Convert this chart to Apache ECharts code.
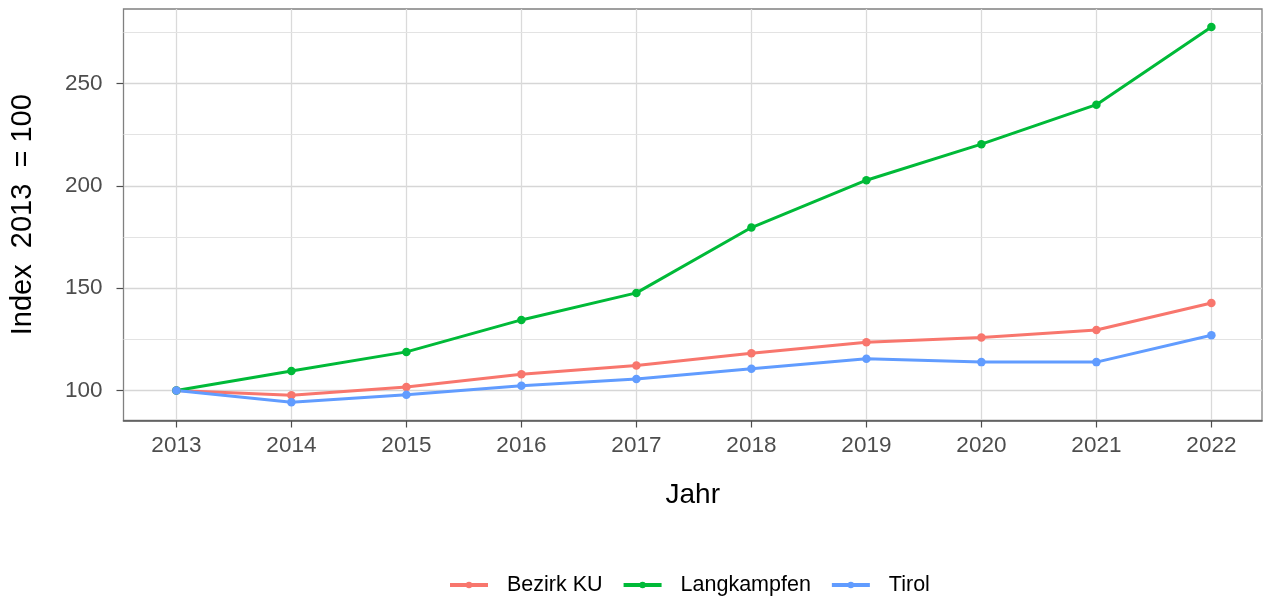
<!DOCTYPE html>
<html>
<head>
<meta charset="utf-8">
<script src="https://cdn.jsdelivr.net/npm/echarts@6/dist/echarts.min.js"></script>
<style>
  html, body { margin: 0; padding: 0; background: #fff; }
  #chart { width: 1263px; height: 598px; }
</style>
</head>
<body>
<div id="chart"></div>
<script>
const years = [2013, 2014, 2015, 2016, 2017, 2018, 2019, 2020, 2021, 2022]
const bezirkKU = [100, 97.7, 101.8, 108.0, 112.2, 118.2, 123.6, 125.9, 129.6, 142.8]
const langkampfen = [100, 109.6, 118.9, 134.5, 147.7, 179.6, 202.7, 220.3, 239.6, 277.5]
const tirol = [100, 94.3, 98.0, 102.4, 105.7, 110.7, 115.6, 113.9, 113.9, 127.0]
const yTicks = [100, 150, 200, 250]
const yMinorTicks = [125, 175, 225, 275]

const colors = { 'Bezirk KU': '#F8766D', 'Langkampfen': '#00BA38', 'Tirol': '#619CFF' }
const font = 'Liberation Sans, Arial, sans-serif'

function makeSeries(name, values) {
  return {
    name: name,
    type: 'line',
    data: years.map((y, i) => [y, values[i]]),
    symbol: 'circle',
    symbolSize: 8.5,
    lineStyle: { width: 3, color: colors[name] },
    itemStyle: { color: colors[name] },
    emphasis: { disabled: true },
    animation: false,
    z: 3
  }
}

const chart = echarts.init(document.getElementById('chart'), null, { renderer: 'canvas' })
chart.setOption({
  backgroundColor: '#fff',
  textStyle: { fontFamily: font },
  grid: {
    left: 123.5,
    right: 1,
    top: 9,
    bottom: 177.5,
    show: true,
    borderColor: '#808080',
    borderWidth: 1.3
  },
  xAxis: {
    type: 'value',
    min: 2012.54,
    max: 2022.44,
    interval: 1,
    name: 'Jahr',
    nameLocation: 'middle',
    nameGap: 61,
    nameTextStyle: { fontSize: 28, color: '#000', fontFamily: font },
    axisLine: { show: true, lineStyle: { color: '#5a5a5a', width: 1.6 } },
    axisTick: { show: true, length: 7, lineStyle: { color: '#4d4d4d', width: 1.2 }, customValues: years },
    axisLabel: {
      customValues: years, fontSize: 22.5, color: '#4d4d4d', margin: 14, fontFamily: font,
      formatter: v => String(v)
    },
    splitLine: { show: true, lineStyle: { color: '#dadada', width: 1.3 } }
  },
  yAxis: {
    type: 'value',
    min: 85.4,
    max: 286.3,
    interval: 50,
    name: 'Index  2013  = 100',
    nameLocation: 'middle',
    nameGap: 86,
    nameTextStyle: { fontSize: 29, color: '#000', fontFamily: font },
    axisLine: { show: false },
    axisTick: { show: true, length: 7, lineStyle: { color: '#4d4d4d', width: 1.2 }, customValues: yTicks },
    axisLabel: { customValues: yTicks, fontSize: 22.5, color: '#4d4d4d', margin: 21, fontFamily: font },
    splitLine: { show: true, lineStyle: { color: '#d6d6d6', width: 1.3 } }
  },
  legend: {
    left: 443,
    top: 569,
    itemWidth: 38,
    itemHeight: 8,
    itemGap: 19,
    lineStyle: { width: 4 },
    textStyle: { fontSize: 21.5, color: '#000', fontFamily: font, padding: [0, 0, 0, 14] },
    data: ['Bezirk KU', 'Langkampfen', 'Tirol']
  },
  series: [
    {
      // minor horizontal grid lines
      type: 'line',
      data: [],
      z: 1,
      silent: true,
      animation: false,
      markLine: {
        z: 1,
        silent: true,
        symbol: 'none',
        label: { show: false },
        animation: false,
        lineStyle: { color: '#e3e3e3', width: 1.1, type: 'solid' },
        data: yMinorTicks.map(v => ({ yAxis: v }))
      }
    },
    makeSeries('Bezirk KU', bezirkKU),
    makeSeries('Langkampfen', langkampfen),
    makeSeries('Tirol', tirol)
  ]
})
</script>
</body>
</html>
